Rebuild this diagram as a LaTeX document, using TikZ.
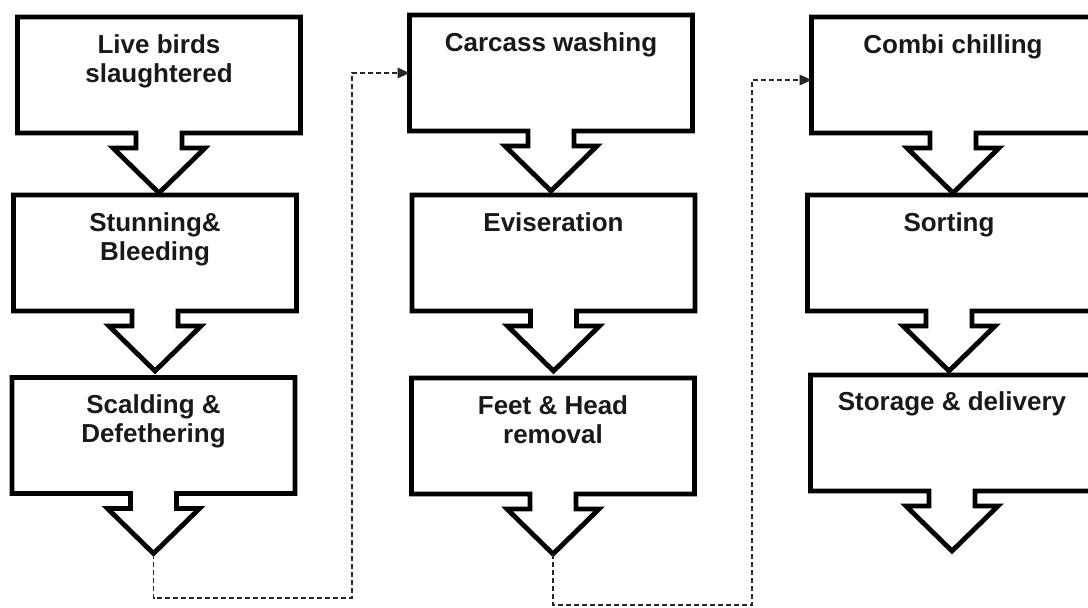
\documentclass[tikz,border=0pt]{standalone}
\usepackage{fontspec}
\setmainfont{Liberation Sans}
\usetikzlibrary{calc,arrows.meta}

\begin{document}
\begin{tikzpicture}[x=0.75pt, y=-0.75pt,
  font=\fontsize{19.5}{21.75}\selectfont\bfseries,
  stepbox/.style={minimum width=212.25pt, minimum height=87pt, inner sep=0pt, outer sep=0pt},
  steptext/.style={anchor=north, align=center, inner sep=0pt, text=black!90},
  outline/.style={draw=black, line width=3.6pt, line join=miter},
  link/.style={draw=black!85, line width=1.1pt, dash pattern=on 3.75pt off 2.25pt,
    -{Triangle[length=9pt, width=8pt]}}]
  %% page
  \useasboundingbox (0,0) rectangle (1088,607);
  \clip (0,0) rectangle (1088,607);
  %% boxes
  % First column
  \node[stepbox] (live)  at (159,75)      {};
  \node[stepbox] (stun)  at (155,253)     {};
  \node[stepbox] (scald) at (153.5,435.5) {};
  % Second column
  \node[stepbox] (wash)  at (551,73)      {};
  \node[stepbox] (evis)  at (553.5,253)   {};
  \node[stepbox] (feet)  at (553,436)     {};
  % Third column
  \node[stepbox] (chill) at (953,75)      {};
  \node[stepbox] (sort)  at (949,253)     {};
  \node[stepbox] (store) at (952,433)     {};
  %% outlines with the down arrows
  \foreach \n in {live,stun,scald,wash,evis,feet,chill,sort,store}
    \draw[outline] (\n.south west) |- (\n.north east) |- ($(\n.south)+(23,0)$)
      -- ++(0,15) -- ++(23,0) -- ++(-46,45) coordinate (\n-tip)
      -- ++(-46,-45) -- ++(23,0) -- ++(0,-15) -- cycle;
  %% put in texts
  \node[steptext] (live-t)  at (159,34)      {Live birds\\slaughtered};
  \node[steptext] (stun-t)  at (155,212)     {Stunning\&\\Bleeding};
  \node[steptext] (scald-t) at (153.5,394.5) {Scalding \&\\Defethering};
  \node[steptext] (wash-t)  at (551,32.5)    {Carcass washing};
  \node[steptext] (evis-t)  at (553.5,212)   {Eviseration};
  \node[steptext] (feet-t)  at (553,395)     {Feet \& Head\\removal};
  \node[steptext] (chill-t) at (953,34)      {Combi chilling};
  \node[steptext] (sort-t)  at (949,212)     {Sorting};
  \node[steptext] (store-t) at (952,391.5)   {Storage \& delivery};
  %% dashed links between columns
  \coordinate (bend1) at (352,598);
  \coordinate (bend2) at (752,605);
  \draw[link] (scald-tip) |- (bend1) |- (wash.west);
  \draw[link] (feet-tip) |- (bend2) |- ([yshift=-3.75pt]chill.west);
\end{tikzpicture}
\end{document}
